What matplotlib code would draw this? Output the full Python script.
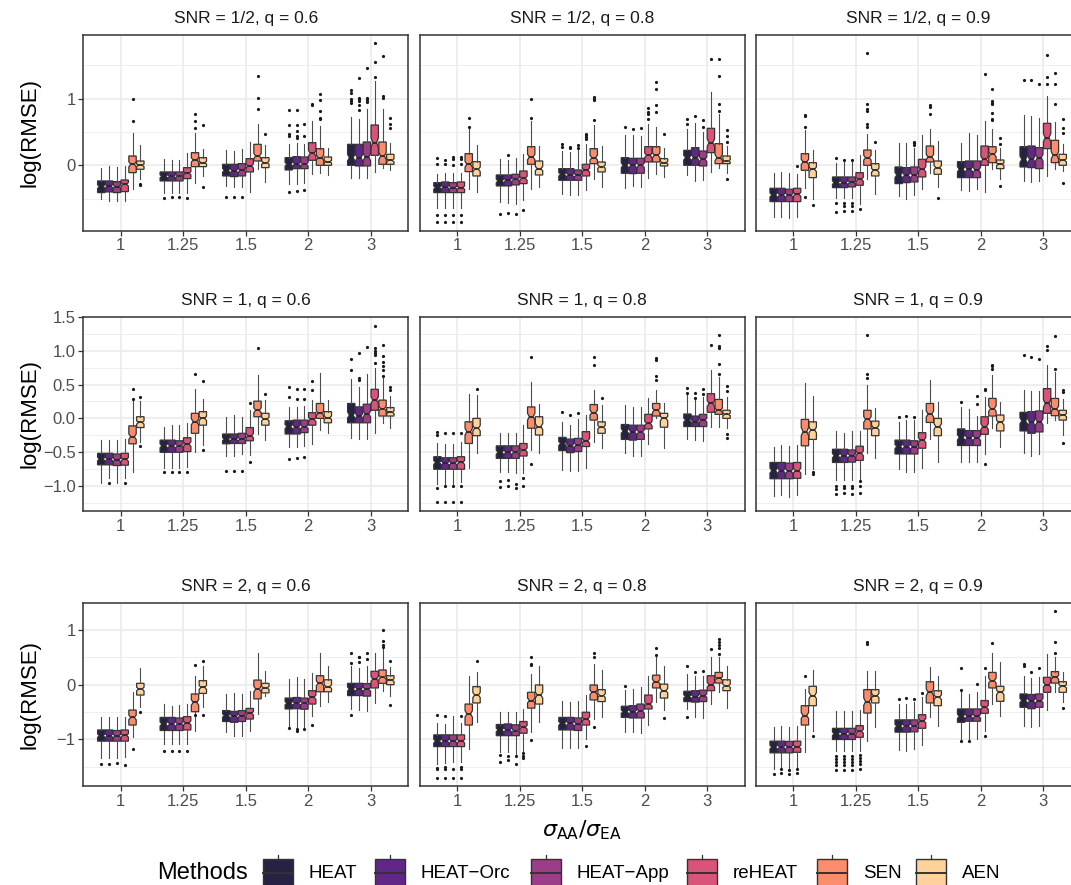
import numpy as np
import matplotlib
matplotlib.use('Agg')
import matplotlib.pyplot as plt
from matplotlib.colors import to_rgba
from matplotlib.patches import Rectangle
from matplotlib.lines import Line2D

plt.rcParams['font.family'] = ['Liberation Sans', 'DejaVu Sans']

# Categories
ratios = ['1', '1.25', '1.5', '2', '3']
methods = ['HEAT', 'HEAT\u2212Orc', 'HEAT\u2212App', 'reHEAT', 'SEN', 'AEN']
titles = ['SNR = 1/2, q = 0.6', 'SNR = 1/2, q = 0.8', 'SNR = 1/2, q = 0.9',
          'SNR = 1, q = 0.6', 'SNR = 1, q = 0.8', 'SNR = 1, q = 0.9',
          'SNR = 2, q = 0.6', 'SNR = 2, q = 0.8', 'SNR = 2, q = 0.9']

# Box summaries: per method, per ratio (whisker low, q1, median, q3, whisker high)
snr05_q06 = [
    [(-0.51, -0.41, -0.32, -0.235, -0.04), (-0.41, -0.235, -0.165, -0.10, 0.10), (-0.31, -0.16, -0.075, 0.015, 0.225), (-0.275, -0.07, 0.015, 0.115, 0.315), (-0.185, 0.0, 0.115, 0.315, 0.73)],
    [(-0.535, -0.40, -0.31, -0.235, -0.01), (-0.41, -0.235, -0.165, -0.10, 0.075), (-0.32, -0.17, -0.085, 0.015, 0.215), (-0.275, -0.05, 0.025, 0.13, 0.34), (-0.185, -0.01, 0.115, 0.315, 0.69)],
    [(-0.535, -0.41, -0.32, -0.245, -0.025), (-0.42, -0.235, -0.16, -0.10, 0.075), (-0.32, -0.16, -0.075, 0.025, 0.24), (-0.26, -0.05, 0.015, 0.125, 0.315), (-0.185, -0.01, 0.125, 0.35, 0.85)],
    [(-0.535, -0.395, -0.285, -0.22, -0.01), (-0.41, -0.20, -0.12, -0.035, 0.18), (-0.395, -0.10, -0.01, 0.10, 0.355), (-0.135, 0.075, 0.18, 0.34, 0.665), (-0.10, 0.15, 0.34, 0.605, 1.265)],
    [(-0.35, -0.11, 0.015, 0.14, 0.48), (-0.26, -0.02, 0.08, 0.19, 0.48), (-0.06, 0.065, 0.14, 0.315, 0.625), (-0.12, 0.0, 0.115, 0.25, 0.59), (-0.035, 0.015, 0.14, 0.35, 0.85)],
    [(-0.20, -0.06, 0.0, 0.065, 0.31), (-0.16, -0.02, 0.04, 0.115, 0.25), (-0.25, -0.035, 0.04, 0.115, 0.30), (-0.15, 0.0, 0.055, 0.125, 0.265), (-0.07, 0.015, 0.075, 0.165, 0.34)],
]
snr05_q06_out = [
    [[], [-0.485], [-0.475], [0.825, 0.6, 0.465, 0.44, -0.395], [1.125, 1.09, 0.99, 0.965, 0.94]],
    [[], [-0.475], [-0.475], [0.825, 0.6, 0.515, 0.44, 0.415, -0.38], [1.315, 1.015, 0.99, 0.965, 0.9, 0.825]],
    [[], [-0.47], [-0.47], [0.615, 0.44, -0.365], [1.465, 1.015, 0.975, 0.95]],
    [[], [-0.495], [], [0.915, 0.9], [1.325, 1.555, 1.83]],
    [[1.0, 0.665], [0.565, 0.665, 0.765], [0.84, 1.015, 1.34], [0.7, 0.715, 0.815, 0.975, 1.065], [1.04, 1.015, 1.64]],
    [[-0.28, -0.30], [0.605, -0.32], [0.475], [], [0.715, 0.625, 0.555]],
]

snr05_q08 = [
    [(-0.645, -0.41, -0.335, -0.26, -0.125), (-0.55, -0.31, -0.235, -0.145, 0.09), (-0.425, -0.225, -0.135, -0.05, 0.215), (-0.335, -0.12, 0.0, 0.115, 0.45), (-0.15, 0.0, 0.115, 0.225, 0.55)],
    [(-0.645, -0.41, -0.325, -0.25, -0.11), (-0.56, -0.31, -0.225, -0.145, 0.075), (-0.445, -0.225, -0.145, -0.05, 0.20), (-0.31, -0.125, 0.0, 0.105, 0.45), (-0.235, 0.0, 0.115, 0.265, 0.63)],
    [(-0.645, -0.41, -0.335, -0.26, -0.11), (-0.575, -0.295, -0.21, -0.135, 0.115), (-0.445, -0.225, -0.15, -0.07, 0.23), (-0.32, -0.12, 0.0, 0.105, 0.44), (-0.225, -0.01, 0.09, 0.215, 0.50)],
    [(-0.645, -0.41, -0.335, -0.25, -0.11), (-0.525, -0.275, -0.195, -0.085, 0.165), (-0.375, -0.16, -0.07, 0.015, 0.315), (-0.185, 0.05, 0.15, 0.28, 0.625), (-0.095, 0.19, 0.34, 0.555, 1.10)],
    [(-0.35, -0.095, 0.015, 0.175, 0.54), (-0.35, 0.015, 0.125, 0.28, 0.665), (-0.20, 0.025, 0.115, 0.25, 0.60), (-0.135, 0.05, 0.15, 0.28, 0.58), (-0.035, 0.025, 0.115, 0.325, 0.765)],
    [(-0.395, -0.16, -0.06, 0.055, 0.305), (-0.325, -0.145, -0.05, 0.065, 0.29), (-0.32, -0.10, -0.02, 0.05, 0.29), (-0.175, -0.01, 0.04, 0.10, 0.265), (-0.11, 0.025, 0.065, 0.14, 0.29)],
]
snr05_q08_out = [
    [[0.115, 0.025, -0.75, -0.845], [-0.725], [0.325, 0.275], [0.575], [0.615, 0.7]],
    [[0.075, 0.025, -0.75, -0.845], [0.15, -0.71], [0.28, 0.265], [0.55], [0.74]],
    [[0.12, 0.1, 0.0, -0.75, -0.845], [-0.725], [0.305, 0.265], [0.555], [0.68, 0.575]],
    [[0.12, 0.1, 0.015, -0.75, -0.845], [-0.675], [0.475, 0.45, 0.425, 0.39], [0.69, 0.765, 0.8, 0.865], [1.6]],
    [[0.575, 0.715], [0.715, 0.99], [0.675, 0.975, 1.0, 1.025], [0.8, 0.9, 1.14, 1.255], [0.815, 0.915, 1.34, 1.6]],
    [[], [], [], [0.475], [0.525, 0.44, 0.35, -0.2]],
]

snr05_q09 = [
    [(-0.775, -0.545, -0.445, -0.345, -0.12), (-0.485, -0.335, -0.26, -0.175, 0.04), (-0.46, -0.275, -0.145, -0.025, 0.34), (-0.375, -0.185, -0.06, 0.055, 0.34), (-0.235, -0.025, 0.09, 0.28, 0.75)],
    [(-0.775, -0.545, -0.445, -0.345, -0.10), (-0.495, -0.335, -0.26, -0.175, 0.075), (-0.50, -0.26, -0.15, -0.035, 0.34), (-0.385, -0.185, -0.06, 0.065, 0.49), (-0.25, -0.035, 0.09, 0.29, 0.74)],
    [(-0.785, -0.545, -0.45, -0.36, -0.11), (-0.49, -0.325, -0.255, -0.175, 0.075), (-0.445, -0.25, -0.15, -0.025, 0.26), (-0.35, -0.185, -0.07, 0.065, 0.45), (-0.235, -0.05, 0.115, 0.265, 0.715)],
    [(-0.775, -0.545, -0.435, -0.345, -0.125), (-0.575, -0.30, -0.21, -0.11, 0.15), (-0.36, -0.175, -0.06, 0.09, 0.45), (-0.395, 0.0, 0.09, 0.29, 0.665), (-0.16, 0.25, 0.415, 0.63, 1.04)],
    [(-0.34, -0.075, 0.05, 0.175, 0.525), (-0.20, 0.0, 0.115, 0.23, 0.465), (-0.11, 0.05, 0.125, 0.29, 0.55), (-0.06, 0.04, 0.165, 0.28, 0.55), (-0.05, 0.04, 0.15, 0.375, 0.65)],
    [(-0.51, -0.185, -0.06, 0.04, 0.23), (-0.425, -0.16, -0.075, 0.025, 0.23), (-0.325, -0.135, -0.035, 0.065, 0.365), (-0.21, -0.05, 0.015, 0.08, 0.265), (-0.085, 0.0, 0.075, 0.165, 0.315)],
]
snr05_q09_out = [
    [[], [0.105, -0.57, -0.695], [], [], [1.28]],
    [[], [0.075, -0.56, -0.61, -0.685], [], [], [1.28]],
    [[], [0.075, -0.56, -0.61, -0.685], [0.35, 0.3, 0.33], [], [1.215]],
    [[-0.01], [-0.66], [], [1.365], [1.325, 1.225, 1.65]],
    [[0.74, 0.75, 0.58, -0.48], [1.69, 0.915, 0.85, 0.815, 0.625, 0.58], [0.775, 0.875, 0.9], [1.14, 0.965, 0.94, 0.915, 0.79, 0.7, 0.68], [1.39, 1.215, 0.915]],
    [[-0.6], [0.35], [-0.485], [0.415, 0.325, -0.31], [0.69, 0.565, 0.49, -0.26]],
]

snr1_q06 = [
    [(-0.955, -0.685, -0.60, -0.515, -0.32), (-0.735, -0.50, -0.405, -0.32, -0.12), (-0.55, -0.375, -0.305, -0.23, 0.015), (-0.415, -0.23, -0.12, -0.035, 0.17), (-0.295, -0.065, 0.05, 0.22, 0.575)],
    [(-0.88, -0.685, -0.60, -0.515, -0.32), (-0.735, -0.50, -0.405, -0.32, -0.10), (-0.55, -0.37, -0.305, -0.23, 0.05), (-0.415, -0.23, -0.13, -0.025, 0.17), (-0.31, -0.065, 0.035, 0.17, 0.465)],
    [(-0.955, -0.695, -0.615, -0.525, -0.32), (-0.735, -0.50, -0.405, -0.33, -0.10), (-0.53, -0.37, -0.305, -0.22, 0.02), (-0.40, -0.21, -0.12, -0.025, 0.18), (-0.31, -0.065, 0.065, 0.21, 0.65)],
    [(-0.88, -0.69, -0.605, -0.515, -0.30), (-0.71, -0.49, -0.38, -0.285, -0.075), (-0.54, -0.33, -0.255, -0.135, 0.13), (-0.38, -0.10, -0.015, 0.085, 0.27), (-0.21, 0.12, 0.27, 0.43, 0.75)],
    [(-0.785, -0.375, -0.27, -0.11, 0.25), (-0.49, -0.22, -0.05, 0.075, 0.43), (-0.23, 0.025, 0.12, 0.255, 0.64), (-0.17, 0.0, 0.075, 0.22, 0.675), (-0.065, 0.035, 0.145, 0.27, 0.59)],
    [(-0.345, -0.135, -0.06, 0.025, 0.255), (-0.39, -0.10, 0.0, 0.10, 0.28), (-0.32, -0.10, -0.01, 0.075, 0.27), (-0.22, -0.065, 0.01, 0.10, 0.27), (-0.14, 0.035, 0.09, 0.16, 0.33)],
]
snr1_q06_out = [
    [[], [-0.795], [-0.775], [0.31, 0.465, -0.6], [0.71, 0.88]],
    [[-0.955], [-0.795], [-0.775], [0.28, 0.43, -0.58], [0.6, 0.565, 0.965]],
    [[], [-0.795], [-0.78], [0.28, 0.44, -0.565], [1.05]],
    [[-0.955], [-0.795], [0.23, -0.65], [0.415, 0.55], [0.82, 0.93, 0.965, 1.0, 1.04, 1.37]],
    [[0.29, 0.44], [0.66], [1.04], [], [0.62, 0.71, 0.77, 0.83, 0.92, 1.08]],
    [[0.31, -0.4], [0.55, -0.465], [0.36], [], [0.415, 0.465]],
]

snr1_q08 = [
    [(-0.965, -0.75, -0.65, -0.565, -0.36), (-0.785, -0.59, -0.50, -0.405, -0.22), (-0.76, -0.475, -0.37, -0.28, -0.06), (-0.515, -0.31, -0.185, -0.09, 0.195), (-0.31, -0.12, -0.025, 0.065, 0.365)],
    [(-0.99, -0.75, -0.66, -0.58, -0.38), (-0.795, -0.59, -0.50, -0.405, -0.22), (-0.77, -0.505, -0.405, -0.305, -0.10), (-0.55, -0.32, -0.20, -0.10, 0.17), (-0.32, -0.12, -0.05, 0.035, 0.31)],
    [(-0.99, -0.75, -0.66, -0.58, -0.38), (-0.81, -0.59, -0.50, -0.405, -0.22), (-0.77, -0.49, -0.39, -0.295, -0.015), (-0.56, -0.31, -0.20, -0.10, 0.17), (-0.34, -0.12, -0.025, 0.06, 0.32)],
    [(-0.945, -0.75, -0.65, -0.565, -0.355), (-0.81, -0.555, -0.465, -0.37, -0.10), (-0.725, -0.415, -0.33, -0.195, 0.05), (-0.38, -0.155, -0.075, 0.06, 0.295), (-0.13, 0.09, 0.22, 0.365, 0.71)],
    [(-0.735, -0.37, -0.195, -0.05, 0.36), (-0.465, -0.145, 0.025, 0.17, 0.53), (-0.345, -0.025, 0.085, 0.205, 0.415), (0.0, 0.035, 0.12, 0.22, 0.415), (-0.12, 0.06, 0.12, 0.28, 0.61)],
    [(-0.505, -0.255, -0.145, 0.0, 0.345), (-0.505, -0.245, -0.12, 0.025, 0.21), (-0.44, -0.22, -0.13, -0.05, 0.205), (-0.44, -0.13, 0.0, 0.075, 0.22), (-0.145, 0.0, 0.06, 0.12, 0.32)],
]
snr1_q08_out = [
    [[-0.2, -0.24, -1.03, -1.24], [-0.93, -1.015], [0.1], [], [0.455, 0.38]],
    [[-0.22, -1.0, -1.235], [-0.915, -1.0], [0.05], [], [0.38, 0.305]],
    [[-0.22, -1.0, -1.235], [-0.965, -1.03], [0.08], [], [0.43, 0.355]],
    [[-0.22, -1.0, -1.235], [-0.88, -1.0], [], [], [1.09]],
    [[], [0.905, -0.675], [0.785, 0.905], [0.565, 0.63, 0.86, 0.89], [0.66, 0.81, 1.04, 1.07, 1.225]],
    [[0.43], [], [0.295], [], [0.475, 0.4, -0.23, -0.295]],
]

snr1_q09 = [
    [(-1.14, -0.89, -0.77, -0.65, -0.425), (-0.905, -0.65, -0.55, -0.455, -0.18), (-0.75, -0.525, -0.415, -0.32, -0.05), (-0.65, -0.40, -0.28, -0.155, 0.17), (-0.505, -0.185, -0.035, 0.09, 0.415)],
    [(-1.125, -0.89, -0.77, -0.65, -0.39), (-0.905, -0.65, -0.55, -0.455, -0.22), (-0.785, -0.525, -0.415, -0.32, -0.025), (-0.65, -0.40, -0.29, -0.18, 0.14), (-0.55, -0.22, -0.06, 0.10, 0.40)],
    [(-1.16, -0.89, -0.78, -0.66, -0.41), (-0.905, -0.645, -0.55, -0.465, -0.185), (-0.785, -0.525, -0.42, -0.33, -0.025), (-0.65, -0.40, -0.29, -0.18, 0.035), (-0.525, -0.20, -0.05, 0.11, 0.40)],
    [(-1.125, -0.885, -0.77, -0.65, -0.39), (-0.895, -0.62, -0.515, -0.41, -0.185), (-0.725, -0.44, -0.32, -0.21, 0.13), (-0.53, -0.235, -0.12, 0.025, 0.32), (-0.075, 0.075, 0.22, 0.44, 0.785)],
    [(-0.825, -0.405, -0.195, -0.015, 0.525), (-0.515, -0.155, -0.015, 0.12, 0.49), (-0.31, -0.06, 0.065, 0.22, 0.565), (-0.145, 0.035, 0.145, 0.295, 0.64), (-0.025, 0.04, 0.14, 0.295, 0.685)],
    [(-0.75, -0.31, -0.17, -0.05, 0.33), (-0.59, -0.255, -0.135, -0.04, 0.16), (-0.64, -0.255, -0.12, 0.0, 0.235), (-0.425, -0.185, -0.06, 0.05, 0.235), (-0.245, -0.025, 0.05, 0.12, 0.28)],
]
snr1_q09_out = [
    [[], [-0.99, -1.04, -1.11], [0.015], [0.245], [0.93]],
    [[], [-0.99, -1.02, -1.1], [0.04], [], [0.9]],
    [[], [-0.99, -1.03, -1.115], [0.015], [0.33, 0.21], [0.875]],
    [[], [-0.93, -0.995, -1.105], [], [0.44, 0.415, -0.675], [1.005, 1.065]],
    [[], [0.6, 0.66, 1.225], [], [0.735, 0.77, 0.785], [0.735, 1.21]],
    [[-0.79, -0.825], [], [], [], [0.415, 0.39, -0.37]],
]

snr2_q06 = [
    [(-1.35, -1.035, -0.935, -0.83, -0.585), (-1.085, -0.84, -0.72, -0.60, -0.355), (-0.87, -0.675, -0.565, -0.475, -0.17), (-0.78, -0.445, -0.34, -0.245, 0.105), (-0.445, -0.20, -0.08, 0.025, 0.345)],
    [(-1.35, -1.035, -0.935, -0.83, -0.585), (-1.085, -0.84, -0.72, -0.60, -0.385), (-0.945, -0.69, -0.58, -0.49, -0.16), (-0.78, -0.44, -0.34, -0.235, 0.135), (-0.46, -0.20, -0.08, 0.025, 0.30)],
    [(-1.35, -1.035, -0.94, -0.84, -0.60), (-1.095, -0.84, -0.72, -0.61, -0.365), (-0.945, -0.675, -0.565, -0.475, -0.17), (-0.78, -0.45, -0.34, -0.245, 0.10), (-0.475, -0.21, -0.085, 0.02, 0.35)],
    [(-1.33, -1.035, -0.93, -0.83, -0.60), (-1.085, -0.83, -0.70, -0.585, -0.355), (-0.84, -0.63, -0.525, -0.435, -0.11), (-0.565, -0.355, -0.23, -0.11, 0.21), (-0.34, -0.06, 0.105, 0.245, 0.59)],
    [(-0.965, -0.74, -0.60, -0.465, -0.13), (-0.84, -0.495, -0.325, -0.17, 0.165), (-0.535, -0.26, -0.08, 0.085, 0.575), (-0.385, -0.13, 0.025, 0.165, 0.59), (-0.11, 0.025, 0.135, 0.27, 0.65)],
    [(-0.415, -0.19, -0.08, 0.025, 0.30), (-0.415, -0.16, -0.05, 0.075, 0.35), (-0.20, -0.15, -0.06, 0.025, 0.255), (-0.325, -0.13, -0.035, 0.09, 0.345), (-0.20, 0.0, 0.085, 0.165, 0.33)],
]
snr2_q06_out = [
    [[-1.45], [-1.22], [], [-0.8], [0.39, 0.575, -0.555]],
    [[-1.45], [-1.22], [], [-0.81, -0.84], [0.41, 0.5, 0.51]],
    [[-1.44], [-1.22], [], [-0.81], [0.47, 0.59]],
    [[-1.47], [-1.21], [], [-0.74], []],
    [[-1.18], [0.365, -0.555], [], [], [0.7, 0.73, 0.805, 1.0]],
    [[-0.505], [0.44, -0.555], [], [], [0.44, -0.37]],
]

snr2_q08 = [
    [(-1.45, -1.135, -1.035, -0.92, -0.705), (-1.24, -0.935, -0.83, -0.73, -0.495), (-1.165, -0.83, -0.71, -0.60, -0.29), (-0.86, -0.60, -0.495, -0.395, -0.10), (-0.445, -0.31, -0.215, -0.12, 0.195)],
    [(-1.43, -1.135, -1.035, -0.92, -0.72), (-1.24, -0.935, -0.83, -0.72, -0.495), (-1.165, -0.83, -0.71, -0.60, -0.32), (-0.87, -0.61, -0.50, -0.385, -0.07), (-0.60, -0.32, -0.22, -0.11, 0.165)],
    [(-1.42, -1.135, -1.035, -0.92, -0.58), (-1.27, -0.935, -0.84, -0.735, -0.505), (-1.165, -0.84, -0.72, -0.61, -0.29), (-0.89, -0.61, -0.48, -0.355, -0.05), (-0.615, -0.31, -0.20, -0.10, 0.165)],
    [(-1.42, -1.135, -1.035, -0.92, -0.705), (-1.22, -0.89, -0.78, -0.675, -0.445), (-1.0, -0.74, -0.63, -0.505, -0.18), (-0.74, -0.445, -0.355, -0.19, 0.165), (-0.355, -0.11, 0.0, 0.165, 0.51)],
    [(-1.175, -0.74, -0.535, -0.355, 0.165), (-0.86, -0.43, -0.29, -0.14, 0.205), (-0.63, -0.28, -0.14, -0.005, 0.38), (-0.31, -0.06, 0.055, 0.175, 0.51), (-0.14, 0.03, 0.115, 0.225, 0.50)],
    [(-0.69, -0.335, -0.19, -0.035, 0.225), (-0.69, -0.355, -0.19, -0.005, 0.35), (-0.585, -0.31, -0.20, -0.09, 0.275), (-0.465, -0.245, -0.11, 0.01, 0.35), (-0.43, -0.11, -0.02, 0.09, 0.35)],
]
snr2_q08_out = [
    [[-0.55, -1.53, -1.55, -1.71], [-1.29, -1.41], [], [-0.03], [0.35, -0.585]],
    [[-0.57, -1.51, -1.54, -1.71], [-1.3, -1.38], [], [], [0.24]],
    [[-1.54, -1.71], [-1.3, -1.45], [], [], [0.245]],
    [[-0.57, -1.51, -1.54, -1.71], [-1.25, -1.3, -1.345], [-1.13], [], [0.65]],
    [[], [0.51, 0.38, 0.36, -1.01], [0.58, 0.5, -0.77], [0.68, 0.54], [0.555, 0.665, 0.73, 0.79, 0.835]],
    [[0.44], [], [], [-0.61], []],
]

snr2_q09 = [
    [(-1.545, -1.25, -1.145, -1.035, -0.77), (-1.21, -1.005, -0.90, -0.80, -0.49), (-1.19, -0.87, -0.76, -0.645, -0.355), (-0.995, -0.69, -0.58, -0.445, -0.14), (-0.75, -0.415, -0.29, -0.17, 0.165)],
    [(-1.53, -1.25, -1.145, -1.035, -0.75), (-1.21, -1.005, -0.90, -0.80, -0.49), (-1.21, -0.87, -0.76, -0.645, -0.355), (-1.01, -0.67, -0.58, -0.445, -0.17), (-0.77, -0.44, -0.30, -0.18, 0.115)],
    [(-1.545, -1.25, -1.145, -1.04, -0.77), (-1.21, -1.005, -0.90, -0.80, -0.49), (-1.18, -0.865, -0.76, -0.645, -0.325), (-0.995, -0.67, -0.58, -0.445, -0.14), (-0.75, -0.415, -0.29, -0.17, 0.135)],
    [(-1.53, -1.24, -1.14, -1.035, -0.75), (-1.21, -0.965, -0.855, -0.75, -0.47), (-1.10, -0.80, -0.66, -0.55, -0.23), (-0.855, -0.525, -0.415, -0.29, 0.165), (-0.455, -0.14, 0.0, 0.135, 0.56)],
    [(-1.24, -0.74, -0.565, -0.385, -0.08), (-1.025, -0.52, -0.31, -0.09, 0.245), (-0.585, -0.335, -0.14, 0.055, 0.33), (-0.355, -0.06, 0.075, 0.225, 0.59), (-0.14, 0.03, 0.135, 0.24, 0.50)],
    [(-0.84, -0.385, -0.20, -0.03, 0.275), (-0.78, -0.335, -0.20, -0.09, 0.245), (-0.75, -0.385, -0.23, -0.11, 0.165), (-0.565, -0.305, -0.14, -0.03, 0.425), (-0.32, -0.14, -0.03, 0.055, 0.24)],
]
snr2_q09_out = [
    [[-1.635], [-1.3, -1.36, -1.42, -1.48, -1.57], [-0.26], [0.315, -0.09, -1.035], [0.38, 0.35]],
    [[-1.55, -1.62], [-1.3, -1.36, -1.42, -1.48, -1.57], [-0.25], [-1.03], [0.24]],
    [[-1.57, -1.635], [-1.3, -1.36, -1.42, -1.48, -1.57], [-0.26], [0.01], [0.3]],
    [[-1.55, -1.62], [-1.28, -1.34, -1.4, -1.46, -1.54], [-0.15], [0.3, -0.945], []],
    [[0.165], [0.785, 0.745], [], [0.76], [0.59, 0.785, 1.35]],
    [[-0.945], [], [], [], [-0.43]],
]

panel_data = [(snr05_q06, snr05_q06_out), (snr05_q08, snr05_q08_out), (snr05_q09, snr05_q09_out),
              (snr1_q06, snr1_q06_out), (snr1_q08, snr1_q08_out), (snr1_q09, snr1_q09_out),
              (snr2_q06, snr2_q06_out), (snr2_q08, snr2_q08_out), (snr2_q09, snr2_q09_out)]

# y breaks per row (major, labels, minor)
row_breaks = [
    ([0, 1], ['0', '1'], [-0.5, 0.5, 1.5]),
    ([-1.0, -0.5, 0.0, 0.5, 1.0, 1.5], ['\u22121.0', '\u22120.5', '0.0', '0.5', '1.0', '1.5'],
     [-1.25, -0.75, -0.25, 0.25, 0.75, 1.25]),
    ([-1, 0, 1], ['\u22121', '0', '1'], [-1.5, -0.5, 0.5]),
]

# Style / layout
N_SIM = 100
DODGE = 0.125
BOX_W = 0.118
colors = [to_rgba(plt.cm.magma(v), 0.92) for v in np.linspace(0.1, 0.9, 6)]
W, H = 1071, 885
col_left = [83.3, 419.5, 755.7]
panel_w = 325.0
row_span = [(34.5, 230.5), (316.7, 511.3), (602.7, 786.3)]
EDGE = '#333333'
GRID = '#EBEBEB'

fig = plt.figure(figsize=(W / 100, H / 100), dpi=100)


def box_stats(data, out):
    stats, pos, cols = [], [], []
    for m in range(len(methods)):
        for g in range(len(ratios)):
            lo, q1, med, q3, hi = data[m][g]
            half = 1.58 * (q3 - q1) / np.sqrt(N_SIM)
            stats.append(dict(med=med, q1=q1, q3=q3, whislo=lo, whishi=hi,
                              cilo=med - half, cihi=med + half, fliers=np.array(out[m][g])))
            pos.append(g + 1 + (m - 2.5) * DODGE)
            cols.append(colors[m])
    return stats, pos, cols


for r in range(3):
    # shared y range within a row, ggplot-style 5% expansion
    vals = []
    for c in range(3):
        data, out = panel_data[r * 3 + c]
        for m in range(6):
            for g in range(5):
                vals += [data[m][g][0], data[m][g][4]] + list(out[m][g])
    lo, hi = min(vals), max(vals)
    pad = 0.05 * (hi - lo)
    ylim = (lo - pad, hi + pad)
    top, bot = row_span[r]
    majors, labels, minors = row_breaks[r]

    for c in range(3):
        i = r * 3 + c
        data, out = panel_data[i]
        ax = fig.add_axes([col_left[c] / W, 1 - bot / H, panel_w / W, (bot - top) / H])
        ax.set_xlim(0.4, 5.6)
        ax.set_ylim(*ylim)

        ax.set_yticks(majors)
        ax.set_yticks(minors, minor=True)
        ax.set_xticks(range(1, 6))
        ax.set_xticklabels(ratios)
        ax.grid(True, which='major', color=GRID, linewidth=1.2, zorder=0)
        ax.grid(True, which='minor', axis='y', color=GRID, linewidth=0.6, zorder=0)
        ax.set_axisbelow(True)

        stats, pos, cols = box_stats(data, out)
        bp = ax.bxp(stats, positions=pos, widths=BOX_W, patch_artist=True, shownotches=True,
                    showcaps=False, manage_ticks=False,
                    boxprops=dict(edgecolor=EDGE, linewidth=0.9),
                    whiskerprops=dict(color='#4D4D4D', linewidth=0.8),
                    medianprops=dict(color='#262626', linewidth=1.3),
                    flierprops=dict(marker='o', markersize=2.3, markerfacecolor='#1A1A1A',
                                    markeredgecolor='none'))
        for patch, col in zip(bp['boxes'], cols):
            patch.set_facecolor(col)

        for s in ax.spines.values():
            s.set_color(EDGE)
            s.set_linewidth(1.1)
        ax.tick_params(axis='x', length=3.5, width=0.9, color=EDGE, labelcolor='#4D4D4D',
                       labelsize=12, pad=2)
        ax.tick_params(axis='y', which='minor', length=0)
        if c == 0:
            ax.set_yticklabels(labels)
            ax.tick_params(axis='y', which='major', length=3.5, width=0.9, color=EDGE,
                           labelcolor='#4D4D4D', labelsize=12, pad=2)
        else:
            ax.tick_params(axis='y', which='major', length=0, labelleft=False)

        ax.text(0.5, 1.0 + 9 / (bot - top), titles[i], transform=ax.transAxes, ha='center',
                va='bottom', fontsize=12.5, color='#1A1A1A')

    fig.text(30 / W, 1 - (top + bot) / 2 / H, 'log(RMSE)', rotation=90, ha='center',
             va='center', fontsize=16)

fig.text(582 / W, 1 - 830 / H, r'$\sigma_{\mathrm{AA}}/\sigma_{\mathrm{EA}}$', ha='center',
         va='center', fontsize=16)

# legend drawn in pixel coordinates
lax = fig.add_axes([0, 0, 1, 1])
lax.set_xlim(0, W)
lax.set_ylim(H, 0)
lax.axis('off')
ly = 873
lax.text(157, ly, 'Methods', ha='left', va='center', fontsize=17)
key_x = [263, 375, 531, 687, 817, 916]
KW, KH = 30, 28
for m, kx in enumerate(key_x):
    cx = kx + KW / 2
    lax.add_line(Line2D([cx, cx], [ly - 18, ly - KH / 2], color=EDGE, linewidth=0.9))
    lax.add_line(Line2D([cx, cx], [ly + KH / 2, ly + 18], color=EDGE, linewidth=0.9))
    lax.add_patch(Rectangle((kx, ly - KH / 2), KW, KH, facecolor=colors[m], edgecolor=EDGE,
                            linewidth=1.0))
    lax.add_line(Line2D([kx, kx + KW], [ly, ly], color=EDGE, linewidth=1.4))
    lax.text(kx + 46, ly, methods[m], ha='left', va='center', fontsize=13.5)

fig.savefig('out.png', dpi=100)
